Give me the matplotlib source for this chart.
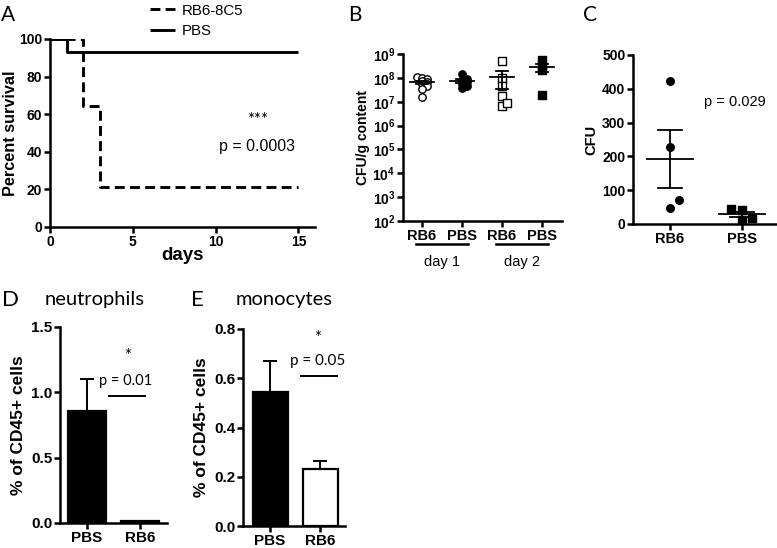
import numpy as np
import matplotlib
matplotlib.use("Agg")
import matplotlib.pyplot as plt

plt.rcParams['font.family'] = ['Liberation Sans', 'DejaVu Sans']
plt.rcParams['mathtext.fontset'] = 'custom'
plt.rcParams['mathtext.bf'] = 'Liberation Sans:bold'
plt.rcParams['mathtext.rm'] = 'Liberation Sans'

# ---------------- data ----------------
# A: survival
pbs_days = [0, 1, 15]
pbs_surv = [100, 93.3, 93.3]
rb6_days = [0, 2, 3, 15]
rb6_surv = [100, 64.3, 21.4, 21.4]
surv_ticks_x = [0, 5, 10, 15]
surv_ticks_y = [0, 20, 40, 60, 80, 100]

# B: CFU/g content
b_labels = ["RB6", "PBS", "RB6", "PBS"]
b_day1_rb6 = [1.1e8, 1.0e8, 9e7, 7.5e7, 6.5e7, 5.5e7, 4.5e7, 3.5e7, 1.6e7]
b_day1_pbs = [1.5e8, 9e7, 7.5e7, 6.5e7, 5.5e7, 4.5e7, 3.8e7]
b_day2_rb6 = [5.0e8, 1.0e8, 4.6e7, 1.8e7, 6.6e6, 8.5e6]
b_day2_pbs = [5.6e8, 3.5e8, 2.1e8, 2.0e7]
b_days = ["day 1", "day 2"]

# C: CFU
c_labels = ["RB6", "PBS"]
c_rb6 = [423, 229, 71, 46]
c_pbs = [43, 42, 12, 17]
c_pvalue = "p = 0.029"

# D: neutrophils
d_labels = ["PBS", "RB6"]
d_means = [0.86, 0.015]
d_err = [0.245, 0.004]

# E: monocytes
e_labels = ["PBS", "RB6"]
e_means = [0.545, 0.232]
e_err = [0.125, 0.030]

LW = 1.8
fig = plt.figure(figsize=(7.77, 5.48), dpi=100)


def style(ax, size=10):
    for s in ['top', 'right']:
        ax.spines[s].set_visible(False)
    for s in ['left', 'bottom']:
        ax.spines[s].set_linewidth(LW)
    ax.tick_params(width=LW, length=4, labelsize=size, pad=1.5)
    for lab in ax.get_xticklabels() + ax.get_yticklabels():
        lab.set_fontweight('bold')


# ---------------- A ----------------
axA = fig.add_axes([50/777, 1-227/548, 265/777, 188/548])
axA.plot(pbs_days, pbs_surv, drawstyle='steps-post', color='black', lw=2.1, label='PBS',
         solid_capstyle='butt')
axA.plot(rb6_days, rb6_surv, drawstyle='steps-post', color='black', lw=2.1,
         dashes=(3.4, 1.8), label='RB6-8C5')
axA.set_xlim(0, 16)
axA.set_ylim(0, 100)
axA.set_xticks(surv_ticks_x)
axA.set_yticks(surv_ticks_y)
style(axA, 10)
axA.set_xlabel('days', fontsize=13.5, fontweight='bold', labelpad=-1)
axA.set_ylabel('Percent survival', fontsize=11.7, fontweight='bold', labelpad=1)
axA.text(12.5, 57, '***', fontsize=12, ha='center', va='center', family='Lato')
axA.text(12.5, 43, 'p = 0.0003', fontsize=11.5, ha='center', va='center')
# legend
h_pbs, h_rb6 = axA.get_lines()
leg = axA.legend([h_rb6, h_pbs], ['RB6-8C5', 'PBS'], loc='center left',
                 bbox_to_anchor=(0.377, 1.096), frameon=False, fontsize=10.8,
                 handlelength=1.67, handletextpad=0.47, labelspacing=0.45,
                 borderaxespad=0, borderpad=0)
fig.text(1/777, 1-15/548, 'A', fontsize=15, family='Lato', va='center')

# ---------------- B ----------------
axB = fig.add_axes([403/777, 1-221/548, 159/777, 167/548])
axB.set_yscale('log')
axB.set_ylim(1e2, 1e9)
axB.set_xlim(0.525, 4.5)


def swarm(vals, spacing):
    v = np.log10(np.asarray(vals))
    order = np.argsort(v)
    offs = np.zeros(len(v))
    placed = []
    for i in order:
        cand = [0.0]
        k = 1
        while len(cand) < 40:
            cand += [k * spacing, -k * spacing]
            k += 1
        for c in cand:
            ok = True
            for (pv, po) in placed:
                if abs(pv - v[i]) < 0.12 and abs(po - c) < spacing * 0.9:
                    ok = False
                    break
            if ok:
                offs[i] = c
                placed.append((v[i], c))
                break
    return offs


def mean_sem(ax, x, vals, half=0.3, cap=0.15, lw=1.3):
    vals = np.asarray(vals, float)
    m = vals.mean()
    s = vals.std(ddof=1) / np.sqrt(len(vals))
    ax.plot([x - half, x + half], [m, m], color='black', lw=lw, zorder=4)
    ax.plot([x - cap, x + cap], [m + s, m + s], color='black', lw=lw, zorder=4)
    ax.plot([x - cap, x + cap], [m - s, m - s], color='black', lw=lw, zorder=4)
    ax.plot([x, x], [m - s, m + s], color='black', lw=lw, zorder=4)


groupsB = [(b_day1_rb6, 'o', 'white'), (b_day1_pbs, 'o', 'black'),
           (b_day2_rb6, 's', 'white'), (b_day2_pbs, 's', 'black')]
for i, (vals, mk, fc) in enumerate(groupsB):
    x = i + 1
    offs = swarm(vals, 0.13)
    axB.scatter(x + offs, vals, marker=mk, s=28, facecolors=fc, edgecolors='black',
                linewidths=1.0, zorder=3)
    mean_sem(axB, x, vals)
axB.set_xticks([1, 2, 3, 4])
axB.set_xticklabels(b_labels)
axB.set_yticks([10.0**k for k in range(2, 10)])
axB.set_yticklabels([r'$\mathbf{10^{%d}}$' % k for k in range(2, 10)])
axB.yaxis.set_minor_locator(matplotlib.ticker.NullLocator())
style(axB, 10)
axB.tick_params(axis='x', labelsize=10.5)
axB.set_ylabel('CFU/g content', fontsize=10, fontweight='bold', labelpad=2)
tr = axB.get_xaxis_transform()
for j, d in enumerate(b_days):
    c = 1.5 + 2 * j
    axB.plot([c - 0.66, c + 0.66], [-0.138, -0.138], color='black', lw=1.8,
             transform=tr, clip_on=False)
    axB.text(c, -0.245, d, transform=tr, ha='center', va='center', fontsize=10.5)
fig.text(348/777, 1-15/548, 'B', fontsize=15, family='Lato', va='center')

# ---------------- C ----------------
axC = fig.add_axes([633/777, 1-224/548, 144/777, 169/548])
axC.set_ylim(0, 500)
axC.set_xlim(0.486, 2.49)
axC.scatter(1 + np.array([0.0, 0.0, 0.125, 0.0]), c_rb6, marker='o', s=30,
            color='black', zorder=3)
axC.scatter(2 + np.array([-0.15, 0.0, 0.0, 0.14]), c_pbs, marker='s', s=30,
            color='black', zorder=3)
mean_sem(axC, 1, c_rb6, half=0.32, cap=0.17)
mean_sem(axC, 2, c_pbs, half=0.32, cap=0.17)
axC.set_xticks([1, 2])
axC.set_xticklabels(c_labels)
axC.set_yticks([0, 100, 200, 300, 400, 500])
style(axC, 10)
axC.tick_params(axis='x', labelsize=10.5)
axC.set_ylabel('CFU', fontsize=10.5, fontweight='bold', labelpad=3)
axC.text(1.9, 361, c_pvalue, fontsize=10.5, ha='center', va='center')
fig.text(583/777, 1-15/548, 'C', fontsize=15, family='Lato', va='center')


# ---------------- D & E ----------------
def barpanel(rect, labels, means, err, ylim, yticks, ylabels, xlim, title,
             letter, letter_x, title_x, star_y, p_text, p_xy, p_size, line_x,
             line_y, faces):
    ax = fig.add_axes(rect)
    x = np.arange(1, len(means) + 1)
    ax.bar(x, means, width=0.7, color=faces, edgecolor='black', linewidth=1.6,
           zorder=2)
    ax.errorbar(x, means, yerr=[np.zeros(len(err)), err], fmt='none',
                ecolor='black', elinewidth=1.4, capsize=5, capthick=1.4, zorder=1)
    ax.set_xlim(*xlim)
    ax.set_ylim(*ylim)
    ax.set_xticks(x)
    ax.set_xticklabels(labels)
    ax.set_yticks(yticks)
    ax.set_yticklabels(ylabels)
    style(ax, 11)
    ax.set_ylabel('% of CD45+ cells', fontsize=12.5, fontweight='bold', labelpad=4)
    ax.text(star_y[0], star_y[1], '*', fontsize=12, ha='center', va='center',
            family='Lato')
    ax.text(p_xy[0], p_xy[1], p_text, fontsize=p_size, ha='center', va='center',
            family='Lato')
    ax.plot(line_x, [line_y, line_y], color='black', lw=1.4)
    fig.text(letter_x/777, 1-300/548, letter, fontsize=16, family='Lato', va='center')
    fig.text(title_x/777, 1-300/548, title, fontsize=14.5, family='Lato',
             va='center', ha='center')
    return ax


barpanel([60/777, 25/548, 107/777, 196/548], d_labels, d_means, d_err,
         (0, 1.5), [0.0, 0.5, 1.0, 1.5], ['0.0', '0.5', '1.0', '1.5'],
         (0.49, 2.51), 'neutrophils', 'D', 2, 95,
         (1.77, 1.28), 'p = 0.01', (1.72, 1.09), 10.5, [1.42, 2.1], 0.97,
         ['black', 'black'])
barpanel([243/777, 22/548, 102/777, 197/548], e_labels, e_means, e_err,
         (0, 0.8), [0.0, 0.2, 0.4, 0.6, 0.8], ['0.0', '0.2', '0.4', '0.6', '0.8'],
         (0.46, 2.5), 'monocytes', 'E', 191, 284,
         (1.96, 0.765), 'p = 0.05', (1.96, 0.672), 11, [1.62, 2.34], 0.61,
         ['black', 'white'])

fig.savefig('out.png', dpi=100)
